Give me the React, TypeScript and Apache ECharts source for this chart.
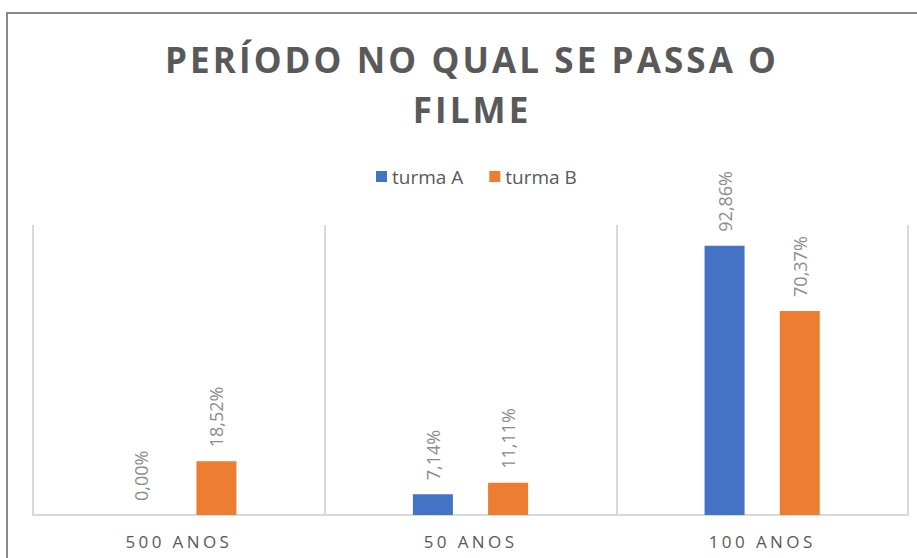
import React, { useEffect, useRef } from "react";
import * as echarts from "echarts";

const categories = ["500 ANOS", "50 ANOS", "100 ANOS"];
const turmaA = [0, 7.14, 92.86];
const turmaB = [18.52, 11.11, 70.37];
const seriesNames = ["turma A", "turma B"];
const titleText = "PERÍODO NO QUAL SE PASSA O\nFILME";

const fmt = (v: number) => v.toFixed(2).replace(".", ",") + "%";

const css = `
#chartbox text[style*="35px"] { letter-spacing: 3.1px; }
#chartbox text[style*="17px"] { letter-spacing: 3.4px; }
`;

export default function App() {
  const ref = useRef<HTMLDivElement>(null);
  useEffect(() => {
    if (!ref.current) return;
    const chart = echarts.init(ref.current, undefined, { renderer: "svg" });
    const labelCfg = {
      show: true,
      position: "top" as const,
      rotate: 90,
      align: "left" as const,
      verticalAlign: "middle" as const,
      distance: 14,
      color: "#8c8c8c",
      fontSize: 18,
      fontFamily: "Open Sans",
      formatter: (p: any) => fmt(p.value),
    };
    chart.setOption({
      animation: false,
      backgroundColor: "#ffffff",
      title: {
        text: titleText,
        left: 467,
        textAlign: "center",
        top: 29,
        textStyle: {
          fontFamily: "Open Sans",
          fontWeight: "bold",
          fontSize: 35,
          color: "#595959",
          lineHeight: 50,
        },
      },
      legend: {
        top: 162,
        left: 371,
        itemWidth: 11,
        itemHeight: 11,
        itemGap: 26,
        icon: "rect",
        textStyle: { fontFamily: "Open Sans", fontSize: 19, color: "#595959" },
        data: seriesNames,
      },
      grid: { left: 33, right: 9, top: 225, bottom: 43 },
      xAxis: {
        type: "category",
        data: categories,
        axisLine: { show: true, lineStyle: { color: "#d9d9d9", width: 2 } },
        axisTick: { show: false },
        splitLine: { show: true, lineStyle: { color: "#d9d9d9", width: 2 } },
        axisLabel: {
          fontFamily: "Open Sans",
          fontSize: 17,
          color: "#595959",
          margin: 18,
        },
      },
      yAxis: {
        type: "value",
        min: 0,
        max: 100,
        show: false,
        splitLine: { show: false },
      },
      series: [
        {
          name: seriesNames[0],
          type: "bar",
          data: turmaA,
          barWidth: 40,
          barGap: "88%",
          itemStyle: { color: "#4472c4" },
          label: labelCfg,
        },
        {
          name: seriesNames[1],
          type: "bar",
          data: turmaB,
          barWidth: 40,
          itemStyle: { color: "#ed7d31" },
          label: labelCfg,
        },
      ],
      graphic: [
        {
          type: "rect",
          shape: { x: 7, y: 13, width: 920, height: 560 },
          style: { fill: "none", stroke: "#888888", lineWidth: 2 },
          silent: true,
        },
      ],
    });
    return () => chart.dispose();
  }, []);
  return (
    <>
      <style>{css}</style>
      <div
        id="chartbox"
        ref={ref}
        style={{ position: "fixed", left: 0, top: 0, width: 917, height: 558 }}
      />
    </>
  );
}
